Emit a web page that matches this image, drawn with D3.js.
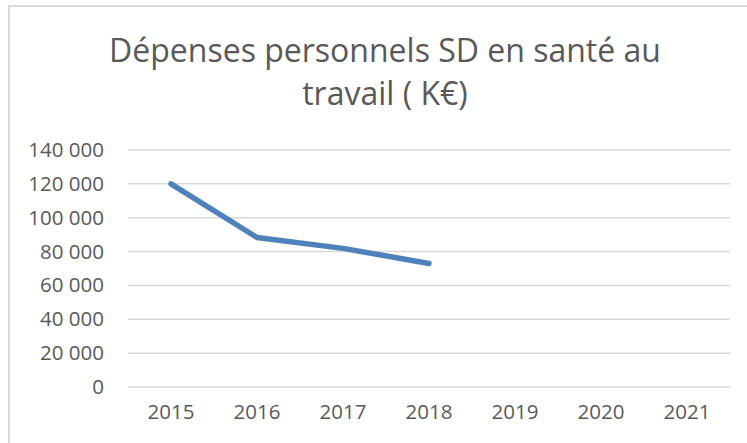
<!DOCTYPE html>
<html>
<head>
<meta charset="utf-8">
<script src="https://cdn.jsdelivr.net/npm/d3@7"></script>
<style>
  body { margin: 0; background: #fff; }
  text { font-family: "Open Sans", sans-serif; fill: #595959; }
</style>
</head>
<body>
<div id="chart"></div>
<script>
// data
var years = ['2015', '2016', '2017', '2018', '2019', '2020', '2021'];
var depenses = [120000, 88300, 81900, 73000, null, null, null];
var yTicks = [0, 20000, 40000, 60000, 80000, 100000, 120000, 140000];
var titleLines = ['Dépenses personnels SD en santé au', 'travail ( K€)'];

var width = 747;
var height = 443;
var margin = { top: 150, right: 17, bottom: 56, left: 128 };

var svg = d3.select('#chart')
  .append('svg')
  .attr('width', width)
  .attr('height', height);

// chart frame (right and bottom edges fall outside the picture)
svg.append('rect')
  .attr('x', 9).attr('y', 6)
  .attr('width', width).attr('height', height)
  .attr('fill', 'none')
  .attr('stroke', '#d9d9d9')
  .attr('stroke-width', 2);

var x = d3.scaleBand()
  .domain(years)
  .range([margin.left, width - margin.right]);

var y = d3.scaleLinear()
  .domain([0, 140000])
  .range([height - margin.bottom, margin.top]);

// gridlines
svg.append('g')
  .selectAll('line')
  .data(yTicks)
  .enter().append('line')
  .attr('x1', margin.left)
  .attr('x2', width - margin.right)
  .attr('y1', function (d) { return y(d); })
  .attr('y2', function (d) { return y(d); })
  .attr('stroke', '#d9d9d9')
  .attr('stroke-width', 1.5);

// y axis labels
var fmt = function (d) { return d3.format(',')(d).replace(/,/g, ' '); };
var yAxis = d3.axisLeft(y).tickValues(yTicks).tickFormat(fmt).tickSize(0).tickPadding(24);
var gy = svg.append('g')
  .attr('transform', 'translate(' + margin.left + ',0)')
  .call(yAxis);
gy.select('.domain').remove();
gy.selectAll('text')
  .style('font-size', '20.5px')
  .attr('fill', '#595959');

// x axis labels
var xAxis = d3.axisBottom(x).tickSize(0).tickPadding(17);
var gx = svg.append('g')
  .attr('transform', 'translate(0,' + (height - margin.bottom) + ')')
  .call(xAxis);
gx.select('.domain').remove();
gx.selectAll('text')
  .style('font-size', '20.5px')
  .attr('fill', '#595959');

// the line
var line = d3.line()
  .defined(function (d) { return d != null; })
  .x(function (d, i) { return x(years[i]) + x.bandwidth() / 2; })
  .y(function (d) { return y(d); });

svg.append('path')
  .datum(depenses)
  .attr('d', line)
  .attr('fill', 'none')
  .attr('stroke', '#4f81bd')
  .attr('stroke-width', 5.5)
  .attr('stroke-linecap', 'round')
  .attr('stroke-linejoin', 'round');

// title
svg.append('g')
  .selectAll('text')
  .data(titleLines)
  .enter().append('text')
  .attr('x', 385)
  .attr('y', function (d, i) { return 62 + i * 43; })
  .attr('text-anchor', 'middle')
  .style('font-size', '32px')
  .text(function (d) { return d; });
</script>
</body>
</html>
